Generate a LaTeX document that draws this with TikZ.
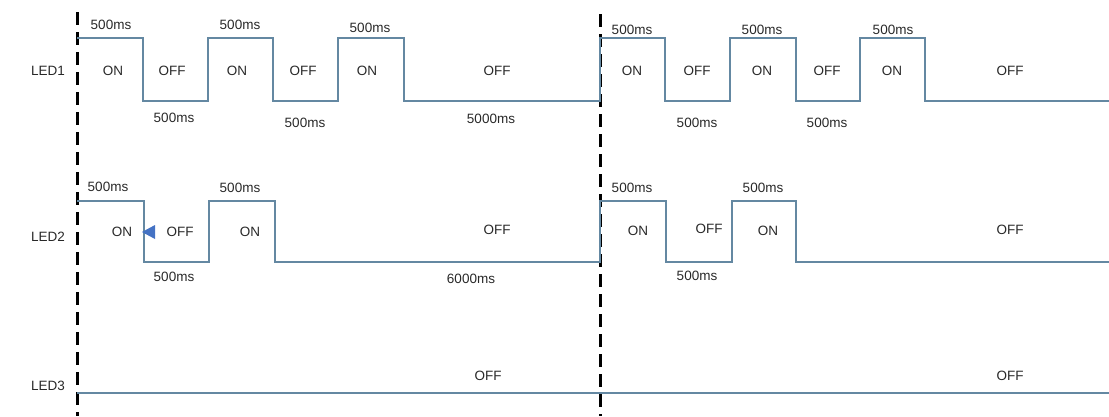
\documentclass[tikz,border=0pt]{standalone}
\usepackage{fontspec}
\setmainfont{Liberation Sans}
\begin{document}
\begin{tikzpicture}[x=1pt,y=-1pt,
  wave/.style={draw={rgb,255:red,100;green,136;blue,162}, line width=1.3pt},
  marker/.style={draw=black, line width=3pt, dash pattern=on 13pt off 7pt},
  lbl/.style={inner sep=0pt, text={rgb,255:red,40;green,40;blue,40}, font=\fontsize{13.5}{15}\selectfont},
  tri/.style={fill={rgb,255:red,68;green,114;blue,196}}]
\useasboundingbox (0,0) rectangle (1109,416);
% markers
\coordinate (m1t) at (77,12); \coordinate (m1b) at (77,416);
\coordinate (m2t) at (600,14); \coordinate (m2b) at (600,416);
\draw[marker] (m1t) -- (m1b);
\draw[marker] (m2t) -- (m2b);
% LED1
\draw[wave] (77,38) -- (143,38) -- (143,101) -- (208,101) -- (208,38) -- (273,38) -- (273,101) -- (338,101) -- (338,38) -- (404,38) -- (404,101) -- (600,101)
  -- (600,38) -- (665,38) -- (665,101) -- (730,101) -- (730,38) -- (796,38) -- (796,101) -- (860,101) -- (860,38) -- (925,38) -- (925,101) -- (1109,101);
% LED2
\draw[wave] (77,201) -- (144,201) -- (144,262) -- (209,262) -- (209,201) -- (275,201) -- (275,262) -- (600,262)
  -- (600,201) -- (666,201) -- (666,262) -- (732,262) -- (732,201) -- (796,201) -- (796,262) -- (1109,262);
% LED3
\draw[wave] (77,393) -- (1109,393);
% triangle
\fill[tri] (142,232) -- (155,225) -- (155,239) -- cycle;
% row labels
\node[lbl] (l1) at (48,71) {LED1};
\node[lbl] (l2) at (48,237) {LED2};
\node[lbl] (l3) at (48,386) {LED3};
% LED1 texts
\node[lbl] (a1) at (111,25) {500ms};
\node[lbl] (a2) at (240,25) {500ms};
\node[lbl] (a3) at (370,28) {500ms};
\node[lbl] (a4) at (113,71) {ON};
\node[lbl] (a5) at (172,71) {OFF};
\node[lbl] (a6) at (237,71) {ON};
\node[lbl] (a7) at (303,71) {OFF};
\node[lbl] (a8) at (367,71) {ON};
\node[lbl] (a9) at (497,71) {OFF};
\node[lbl] (a10) at (174,118) {500ms};
\node[lbl] (a11) at (305,123) {500ms};
\node[lbl] (a12) at (491,119) {5000ms};
\node[lbl] (b1) at (632,30) {500ms};
\node[lbl] (b2) at (762,30) {500ms};
\node[lbl] (b3) at (893,30) {500ms};
\node[lbl] (b4) at (632,71) {ON};
\node[lbl] (b5) at (697,71) {OFF};
\node[lbl] (b6) at (762,71) {ON};
\node[lbl] (b7) at (827,71) {OFF};
\node[lbl] (b8) at (892,71) {ON};
\node[lbl] (b9) at (1010,71) {OFF};
\node[lbl] (b10) at (697,123) {500ms};
\node[lbl] (b11) at (827,123) {500ms};
% LED2 texts
\node[lbl] (c1) at (108,187) {500ms};
\node[lbl] (c2) at (240,188) {500ms};
\node[lbl] (c3) at (122,232) {ON};
\node[lbl] (c4) at (180,232) {OFF};
\node[lbl] (c5) at (250,232) {ON};
\node[lbl] (c6) at (497,230) {OFF};
\node[lbl] (c7) at (174,277) {500ms};
\node[lbl] (c8) at (471,279) {6000ms};
\node[lbl] (d1) at (632,188) {500ms};
\node[lbl] (d2) at (763,188) {500ms};
\node[lbl] (d3) at (638,231) {ON};
\node[lbl] (d4) at (709,229) {OFF};
\node[lbl] (d5) at (768,231) {ON};
\node[lbl] (d6) at (1010,230) {OFF};
\node[lbl] (d7) at (697,276) {500ms};
% LED3 texts
\node[lbl] (e1) at (488,376) {OFF};
\node[lbl] (e2) at (1010,376) {OFF};
\end{tikzpicture}
\end{document}
